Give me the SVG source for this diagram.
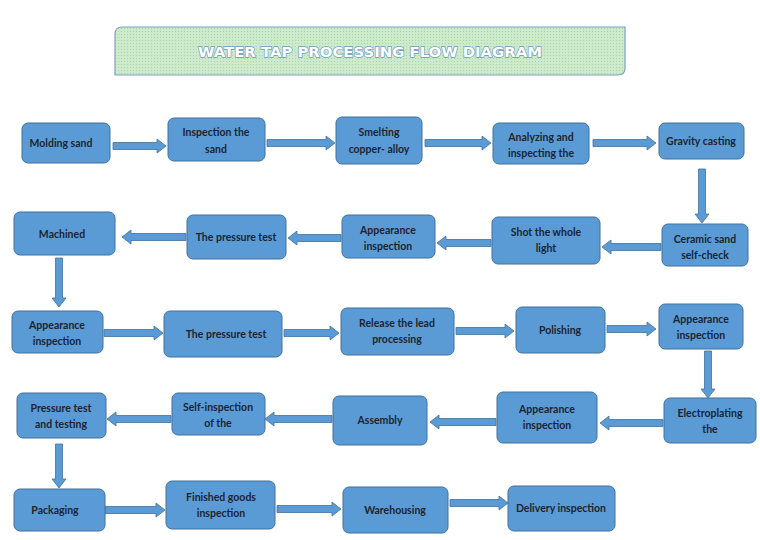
<svg xmlns="http://www.w3.org/2000/svg" width="760" height="540" viewBox="0 0 760 540">
<style>
.n rect{fill:#5b9bd5;stroke:#41719c;stroke-width:1}
.n text{font-family:Lato,"Open Sans","Liberation Sans",sans-serif;font-size:10.5px;font-weight:bold;fill:#1b2430;text-anchor:middle}
#connectors polygon{fill:#5b9bd5;stroke:#41719c;stroke-width:0.8}
.title{font-family:"DejaVu Sans",Verdana,sans-serif;font-weight:bold;font-size:14px;fill:#ffffff;stroke:#6b9bc9;stroke-width:1.3;paint-order:stroke;text-anchor:middle}
</style>
<defs>
<pattern id="dots" width="3" height="3" patternUnits="userSpaceOnUse">
<rect width="3" height="3" fill="#cdebcb"/>
<circle cx="1.5" cy="1.5" r="0.6" fill="#a7d1a6"/>
</pattern>
</defs>
<rect width="760" height="540" fill="#ffffff"/>
<g id="title">
<path d="M122,27 H625 V68 Q625,75 618,75 H115 V34 Q115,27 122,27 Z" fill="url(#dots)" stroke="#7ba3c4" stroke-width="1.2"/>
<text class="title" x="370" y="57" textLength="344" lengthAdjust="spacingAndGlyphs">WATER TAP PROCESSING FLOW DIAGRAM</text>
</g>
<g id="connectors">
<polygon points="113,142.5 157,142.5 157,139 166,146 157,153 157,149.5 113,149.5"/>
<polygon points="267,139.5 326,139.5 326,136 335,143 326,150 326,146.5 267,146.5"/>
<polygon points="425,139.5 482,139.5 482,136 491,143 482,150 482,146.5 425,146.5"/>
<polygon points="593,139.5 647,139.5 647,136 656,143 647,150 647,146.5 593,146.5"/>
<polygon points="698.5,169 698.5,214 695,214 702,223 709,214 705.5,214 705.5,169"/>
<polygon points="661,243.5 611,243.5 611,240 602,247 611,254 611,250.5 661,250.5"/>
<polygon points="491,239.5 446,239.5 446,236 437,243 446,250 446,246.5 491,246.5"/>
<polygon points="341,234.5 297,234.5 297,231 288,238 297,245 297,241.5 341,241.5"/>
<polygon points="186,233.5 131,233.5 131,230 122,237 131,244 131,240.5 186,240.5"/>
<polygon points="55.5,258 55.5,298 52,298 59,307 66,298 62.5,298 62.5,258"/>
<polygon points="104,329.5 154,329.5 154,326 163,333 154,340 154,336.5 104,336.5"/>
<polygon points="284,329.5 330,329.5 330,326 339,333 330,340 330,336.5 284,336.5"/>
<polygon points="456,327.5 505,327.5 505,324 514,331 505,338 505,334.5 456,334.5"/>
<polygon points="607,325.5 647,325.5 647,322 656,329 647,336 647,332.5 607,332.5"/>
<polygon points="704.5,351 704.5,389 701,389 708,398 715,389 711.5,389 711.5,351"/>
<polygon points="663,419.5 609,419.5 609,416 600,423 609,430 609,426.5 663,426.5"/>
<polygon points="496,418.5 439,418.5 439,415 430,422 439,429 439,425.5 496,425.5"/>
<polygon points="332,415.5 274,415.5 274,412 265,419 274,426 274,422.5 332,422.5"/>
<polygon points="171,415.5 116,415.5 116,412 107,419 116,426 116,422.5 171,422.5"/>
<polygon points="55.5,444 55.5,479 52,479 59,488 66,479 62.5,479 62.5,444"/>
<polygon points="105,506.5 156,506.5 156,503 165,510 156,517 156,513.5 105,513.5"/>
<polygon points="277,505.5 332,505.5 332,502 341,509 332,516 332,512.5 277,512.5"/>
<polygon points="450,499.5 499,499.5 499,496 508,503 499,510 499,506.5 450,506.5"/>
</g>
<g id="n1" class="n"><rect x="22" y="123" width="88" height="40" rx="6"/><text x="61" y="146.5">Molding sand</text></g>
<g id="n2" class="n"><rect x="168" y="118" width="97" height="43" rx="6"/><text x="216" y="135.5">Inspection the</text><text x="216" y="152.5">sand</text></g>
<g id="n3" class="n"><rect x="336" y="117" width="86" height="47" rx="6"/><text x="379" y="135.5">Smelting</text><text x="379" y="152.5">copper- alloy</text></g>
<g id="n4" class="n"><rect x="493" y="123" width="96" height="41" rx="6"/><text x="541" y="140.5">Analyzing and</text><text x="541" y="156.5">inspecting the</text></g>
<g id="n5" class="n"><rect x="659" y="123" width="85" height="36" rx="6"/><text x="701" y="144.5">Gravity casting</text></g>
<g id="n6" class="n"><rect x="662" y="224" width="86" height="42" rx="6"/><text x="705" y="242.5">Ceramic sand</text><text x="705" y="258.5">self-check</text></g>
<g id="n7" class="n"><rect x="492" y="217" width="108" height="47" rx="6"/><text x="546" y="235.5">Shot the whole</text><text x="546" y="251.5">light</text></g>
<g id="n8" class="n"><rect x="342" y="215" width="93" height="43" rx="6"/><text x="388" y="233.5">Appearance</text><text x="388" y="249.5">inspection</text></g>
<g id="n9" class="n"><rect x="187" y="215" width="99" height="44" rx="6"/><text x="236" y="240.5">The pressure test</text></g>
<g id="n10" class="n"><rect x="14" y="212" width="101" height="43" rx="6"/><text x="62" y="237.5">Machined</text></g>
<g id="n11" class="n"><rect x="12" y="311" width="91" height="42" rx="6"/><text x="57" y="328.5">Appearance</text><text x="57" y="344.5">inspection</text></g>
<g id="n12" class="n"><rect x="164" y="311" width="118" height="46" rx="6"/><text x="226" y="337.5">The pressure test</text></g>
<g id="n13" class="n"><rect x="341" y="308" width="113" height="47" rx="6"/><text x="397" y="326.5">Release the lead</text><text x="397" y="342.5">processing</text></g>
<g id="n14" class="n"><rect x="516" y="307" width="89" height="46" rx="6"/><text x="560" y="333.5">Polishing</text></g>
<g id="n15" class="n"><rect x="659" y="304" width="84" height="45" rx="6"/><text x="701" y="322.5">Appearance</text><text x="701" y="338.5">inspection</text></g>
<g id="n16" class="n"><rect x="664" y="398" width="92" height="45" rx="6"/><text x="710" y="416.5">Electroplating</text><text x="710" y="432.5">the</text></g>
<g id="n17" class="n"><rect x="497" y="392" width="100" height="51" rx="6"/><text x="547" y="412.5">Appearance</text><text x="547" y="428.5">inspection</text></g>
<g id="n18" class="n"><rect x="333" y="396" width="94" height="49" rx="6"/><text x="380" y="423.5">Assembly</text></g>
<g id="n19" class="n"><rect x="172" y="393" width="93" height="42" rx="6"/><text x="218" y="410.5">Self-inspection</text><text x="218" y="426.5">of the</text></g>
<g id="n20" class="n"><rect x="17" y="393" width="89" height="45" rx="6"/><text x="61" y="411.5">Pressure test</text><text x="61" y="427.5">and testing</text></g>
<g id="n21" class="n"><rect x="14" y="489" width="91" height="42" rx="6"/><text x="55" y="513.5">Packaging</text></g>
<g id="n22" class="n"><rect x="166" y="481" width="109" height="48" rx="6"/><text x="221" y="500.5">Finished goods</text><text x="221" y="516.5">inspection</text></g>
<g id="n23" class="n"><rect x="343" y="487" width="105" height="46" rx="6"/><text x="395" y="513.5">Warehousing</text></g>
<g id="n24" class="n"><rect x="508" y="486" width="107" height="45" rx="6"/><text x="561" y="511.5">Delivery inspection</text></g>
</svg>
